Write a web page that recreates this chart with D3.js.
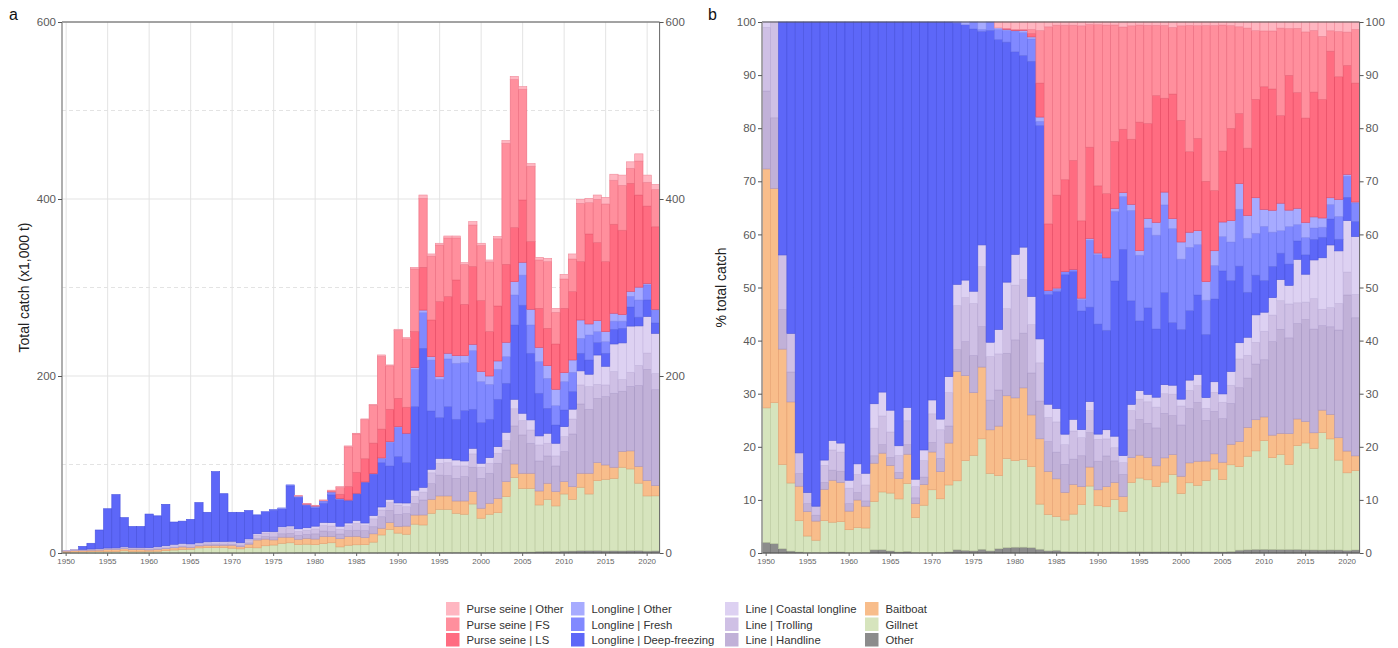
<!DOCTYPE html>
<html><head><meta charset="utf-8">
<script src="https://cdn.jsdelivr.net/npm/d3@7"></script>
<style>body{margin:0;background:#fff;font-family:"Liberation Sans",Arial,Helvetica,sans-serif}</style>
</head><body><svg id="c" width="1398" height="648"></svg>
<script>
const years = d3.range(1950, 2022);

// catch by gear, thousand tonnes (1950 ... 2021)
const other = [.06,.07,.06,.04,.05,.05,.07,.04,.06,.06,.04,.04,.06,.21,.22,.15,.11,.14,.09,.07,.05,.05,.1,.26,.24,.2,.36,.31,.52,.56,.59,.66,.71,.53,
 .5,.7,.4,.4,.5,.5,.5,.5,.8,.8,.8,.8,.8,.8,.8,.9,.8,.8,.8,1.0,1.2,1.1,1.2,1.8,2.0,1.9,2.2,2.3,2.6,2.6,2.7,2.4,2.5,2.4,2.6,2.6,2.2,2.4];
const gillnet = [.76,1.06,1.19,1.41,1.53,1.55,1.52,2.4,1.68,1.71,1.89,1.97,2.53,3.19,3.92,4.14,5.7,5.89,6.07,5.96,5.43,4.65,6.05,5.59,7.94,8.82,10.61,11.24,8.97,9.41,8.8,9.9,10.86,6.38,
 8.3,8.6,9.0,11.9,19.9,26.3,22.0,20.7,31.8,30.9,44.1,48.6,48.6,44.1,43.0,54.5,38.5,43.0,44.8,62.7,84.0,72.0,71.9,52.5,58.7,51.3,64.5,58.4,71.7,64.1,79.1,80.9,81.9,94.5,92.4,76.3,62.3,62.2];
const baitboat = [1.35,1.61,1.63,1.68,1.69,2.3,2.38,2.36,2.37,2.22,1.54,2.18,2.26,2.52,2.63,1.98,2.17,2.53,2.39,2.61,3.27,2.35,3.79,8.86,7.52,5.78,6.89,6.31,6.05,6.61,6.37,8.1,6.89,9.23,
 9.8,9.6,7.9,9.4,7.6,7.6,7.6,9.2,10.3,11.3,15.8,15.1,15.1,13.9,15.0,14.0,11.3,12.4,16.2,17.0,15.4,17.0,17.0,15.8,18.1,16.2,14.0,14.3,15.8,23.4,20.3,16.2,12.5,18.0,20.4,19.0,17.5,11.6];
const handline = [.44,.53,.56,.62,.62,.75,.73,.52,.57,.63,.62,.59,.55,.49,.58,.57,.68,.83,1.01,.94,.83,1.15,1.54,1.76,3.01,3.43,3.88,4.31,4.42,4.48,5.89,6.18,5.61,5.33,
 6.8,6.8,8.0,8.0,13.0,13.8,13.6,14.1,13.1,16.9,17.7,23.5,23.0,25.6,27.5,27.5,33.8,33.9,39.6,35.7,43.0,43.3,33.9,33.9,30.9,29.0,33.9,59.5,78.3,72.3,72.7,77.2,83.6,67.9,72.9,91.5,125.5,108.3];
const trolling = [.36,.72,.77,.80,1.01,1.05,1.12,1.28,1.14,1.08,1.28,1.43,1.65,1.82,1.94,1.82,1.82,2.07,1.93,2.08,2.48,2.48,3.02,3.57,3.9,4.8,5.76,6.31,4.42,4.7,5.56,6.06,6.46,5.4,
 5.5,7.7,5.6,8.9,7.6,8.8,10.4,7.8,8.0,8.9,12.2,13.4,14.5,14.0,12.1,15.1,12.5,11.3,11.3,10.6,19.4,16.2,15.0,18.1,14.3,11.3,16.9,16.9,21.5,25.6,15.8,13.2,24.5,13.2,15.9,22.6,18.4,18.3];
const coastal = [.03,0,0,0,0,0,0,.4,.54,.51,.66,.84,1.21,1.61,1.62,1.56,1.03,1.15,1.29,1.34,1.2,.92,1.44,1.72,1.55,1.13,2.09,2.08,2.99,2.8,3.13,3.66,3.76,3.38,
 3.0,3.4,3.0,3.7,3.4,3.6,2.5,4.2,7.0,5.4,4.0,5.6,5.0,6.7,5.6,6.3,4.5,6.4,7.5,9.4,10.7,8.3,11.4,10.2,11.3,14.3,11.3,11.1,15.9,14.0,33.1,21.1,31.2,41.4,52.2,44.6,41.4,45.4];
const deepFreezing = [0,0,3.29,6.45,21.09,44.3,60.19,33,23.64,23.79,37.97,34.94,46.75,25.17,25.09,27.78,45.49,33.4,79.21,54.0,32.75,34.41,32.06,21.16,22.61,24.21,20.5,45.2,35.49,25.31,20.57,21.66,31.45,30.15,
 25.0,29.8,45.5,46.7,50.0,37.8,52.4,45.6,94.4,157.1,65.9,46.0,58.4,46.0,56.9,44.1,45.9,43.3,53.5,55.4,84.0,122.1,75.3,48.2,28.2,20.7,18.8,19.9,19.9,16.1,14.0,14.7,16.6,16.5,21.6,9.9,18.7,11.8];
const fresh = [0,0,0,0,0,0,0,0,0,0,0,0,0,0,0,0,0,0,0,0,0,0,0,.09,0,.64,.2,1.23,1.24,1.23,2.11,2.58,2.98,.6,
 .9,.6,.9,.7,4.8,26.8,33.0,33.2,42.2,40.2,57.5,43.3,53.9,63.3,54.2,66.3,46.4,39.5,33.9,30.1,33.9,34,32.0,35.8,33.9,21.8,32.1,21.8,16.9,28.3,12.5,13.1,9.2,8.1,12.0,19.4,17.0,14.5];
const longlineOther = [0,0,0,0,0,0,0,0,0,0,0,0,0,0,0,0,0,0,0,0,0,0,0,0,.24,0,.71,0,.2,.11,.05,.24,.28,.6,
 0,.3,0,0,.6,.7,.8,0,1.9,3.0,3.9,3.0,6.4,8.6,7.9,7.1,11.3,9.4,9.4,16.2,15.0,14.5,17.7,16.1,14.3,18.5,10.1,13.9,20.7,12.4,12.4,11.4,8.9,7.4,5.7,14.5,1.5,.8];
const psLS = [0,0,0,0,0,0,0,0,0,0,0,0,0,0,0,0,0,0,0,0,0,0,0,0,0,0,0,0,0,.11,.11,.12,.43,4.8,
 15.2,23.7,26.2,34.5,32.6,36.5,32.0,29.4,40.7,48.3,41.4,84.7,64.0,85.5,58.0,87.8,80.2,50.2,62.1,88.1,61.0,70.4,76.4,44.1,42.2,51.2,72.7,77.2,65.9,101.7,88.1,79.0,100.6,95.3,122.0,104.1,87.5,93.3];
const psFS = [0,0,0,0,0,0,0,0,0,0,0,0,0,0,0,0,0,0,0,0,0,0,0,0,0,0,0,0,0,0,0,0,.57,7.43,
 44.9,43.3,44.1,42.8,82.2,49.1,76.7,77.3,70.8,77.9,72.2,64.0,66.3,47.5,45.0,47.0,62.3,78.8,75.9,136.8,167.4,125.1,85.2,54.6,75.3,35.8,33.1,36.9,65.9,35.4,49.0,65.2,49.7,50.8,17.0,38.4,26.9,42.1];
const psOther = [0,0,0,0,0,0,0,0,0,0,0,0,0,0,0,0,0,0,0,0,0,0,0,0,0,0,0,0,.72,.67,.76,.84,.99,1.2,
 1.1,.8,.9,1.0,1.6,1.0,1.3,1.4,1.8,3.8,2.4,2.0,2.2,2.2,2.1,3.8,2.5,2.1,2.5,3.0,3.6,3.0,3.0,3.0,3.8,4.5,5.3,5.7,4.6,4.9,4.8,7.5,6.8,11.5,7.3,8.1,8.1,5.8];

const absTicks = [0, 200, 400, 600];
const pctTicks = [0, 10, 20, 30, 40, 50, 60, 70, 80, 90, 100];

const series = {other, gillnet, baitboat, handline, trolling, coastal, deepFreezing, fresh, longlineOther, psLS, psFS, psOther};
const keys = ["other","gillnet","baitboat","handline","trolling","coastal","deepFreezing","fresh","longlineOther","psLS","psFS","psOther"];
const labels = {psOther:"Purse seine | Other", psFS:"Purse seine | FS", psLS:"Purse seine | LS",
  longlineOther:"Longline | Other", fresh:"Longline | Fresh", deepFreezing:"Longline | Deep-freezing",
  coastal:"Line | Coastal longline", trolling:"Line | Trolling", handline:"Line | Handline",
  baitboat:"Baitboat", gillnet:"Gillnet", other:"Other"};
const colors = {psOther:"#ffb6c1", psFS:"#ff8f9d", psLS:"#ff6c81",
  longlineOther:"#a7abff", fresh:"#8189ff", deepFreezing:"#5d67f8",
  coastal:"#ddd1f2", trolling:"#cfc0e5", handline:"#c1b1d8",
  baitboat:"#f8bd8b", gillnet:"#d6e4bd", other:"#8c8c8c"};
const strokes = {psOther:"#f08a9a", psFS:"#ec6b7e", psLS:"#e4475f",
  longlineOther:"#8a8ff0", fresh:"#6670ec", deepFreezing:"#4651de",
  coastal:"#c6b8e0", trolling:"#b6a6d2", handline:"#a695c2",
  baitboat:"#e7a070", gillnet:"#b9c99e", other:"#6e6e6e"};

const rows = years.map((y, i) => { const r = {year: y}; keys.forEach(k => r[k] = series[k][i]); return r; });

const svg = d3.select("#c");
const yTop = 22, yBot = 553;

function panel(o) {
  const g = svg.append("g");
  const x = d3.scaleBand().domain(years).range([o.x0, o.x1]).padding(0);
  const y = d3.scaleLinear().domain(o.domain).range([yBot, yTop]);
  const bw = x.bandwidth();
  g.selectAll(".vg").data(years.filter(d => d % 5 === 0)).join("line")
    .attr("x1", d => x(d) + bw/2).attr("x2", d => x(d) + bw/2)
    .attr("y1", yTop).attr("y2", yBot).attr("stroke", "#e3e3e3").attr("stroke-width", 1);
  g.selectAll(".hg").data(o.major).join("line")
    .attr("x1", o.x0).attr("x2", o.x1).attr("y1", d => y(d)).attr("y2", d => y(d))
    .attr("stroke", "#e3e3e3").attr("stroke-width", 1);
  g.selectAll(".hm").data(o.minor).join("line")
    .attr("x1", o.x0).attr("x2", o.x1).attr("y1", d => y(d)).attr("y2", d => y(d))
    .attr("stroke", "#e3e3e3").attr("stroke-width", 1).attr("stroke-dasharray", "4,3");
  const stack = d3.stack().keys(keys).offset(o.offset);
  const st = stack(rows);
  g.selectAll(".layer").data(st).join("g")
    .attr("fill", d => colors[d.key]).attr("stroke", d => strokes[d.key]).attr("stroke-width", 0.6)
    .selectAll("rect").data(d => d.filter(p => p[1] - p[0] > 0)).join("rect")
    .attr("x", d => x(d.data.year)).attr("width", bw)
    .attr("y", d => y(d[1] * o.mult)).attr("height", d => Math.max(0, y(d[0] * o.mult) - y(d[1] * o.mult)));
  g.append("line").attr("x1", o.x0).attr("x2", o.x1).attr("y1", yTop).attr("y2", yTop).attr("stroke", "#555").attr("stroke-width", 1);
  g.append("line").attr("x1", o.x0).attr("x2", o.x1).attr("y1", yBot).attr("y2", yBot).attr("stroke", "#555").attr("stroke-width", 1);
  g.append("line").attr("x1", o.x0).attr("x2", o.x0).attr("y1", yTop).attr("y2", yBot).attr("stroke", "#9a9a9a").attr("stroke-width", 1.6);
  g.append("line").attr("x1", o.x1).attr("x2", o.x1).attr("y1", yTop).attr("y2", yBot).attr("stroke", "#666").attr("stroke-width", 1);
  const la = g.append("g").attr("transform", `translate(${o.x0},0)`)
    .call(d3.axisLeft(y).tickValues(o.ticks).tickSize(4).tickPadding(2).tickFormat(d3.format("d")));
  const ra = g.append("g").attr("transform", `translate(${o.x1},0)`)
    .call(d3.axisRight(y).tickValues(o.ticks).tickSize(4).tickPadding(2).tickFormat(d3.format("d")));
  [la, ra].forEach(a => {
    a.select(".domain").remove();
    a.selectAll("line").attr("stroke", "#555");
    a.selectAll("text").attr("fill", "#5a5a5a").style("font-size", "11.5px").style("font-family", "Liberation Sans, Arial, sans-serif");
  });
  const xa = g.append("g").attr("transform", `translate(0,${yBot})`)
    .call(d3.axisBottom(x).tickValues(years.filter(d => d % 5 === 0)).tickSize(3).tickPadding(2));
  xa.select(".domain").remove();
  xa.selectAll("line").attr("stroke", "#666");
  xa.selectAll("text").attr("fill", "#666").style("font-size", "8px").style("font-family", "Liberation Sans, Arial, sans-serif");
  g.append("text").attr("transform", `translate(${o.tx},${(yTop + yBot) / 2}) rotate(-90)`)
    .attr("text-anchor", "middle").attr("fill", "#222").style("font-size", "14px").text(o.title);
  g.append("text").attr("x", o.lx).attr("y", 20).attr("fill", "#111").style("font-size", "16px").text(o.letter);
}

panel({x0: 62, x1: 659.6, domain: [0, 600], mult: 1, offset: d3.stackOffsetNone,
  ticks: absTicks, major: [0, 200, 400, 600], minor: [100, 300, 500],
  title: "Total catch (x1,000 t)", tx: 29, letter: "a", lx: 9});
panel({x0: 762, x1: 1359.6, domain: [0, 100], mult: 100, offset: d3.stackOffsetExpand,
  ticks: pctTicks, major: [0, 20, 40, 60, 80, 100], minor: [10, 30, 50, 70, 90],
  title: "% total catch", tx: 726, letter: "b", lx: 708});

const legendCols = [["psOther","psFS","psLS"],["longlineOther","fresh","deepFreezing"],["coastal","trolling","handline"],["baitboat","gillnet","other"]];
const colX = [446, 571, 725, 865];
const lg = svg.append("g");
legendCols.forEach((col, ci) => {
  col.forEach((k, ri) => {
    const yy = 602 + ri * 15.5;
    lg.append("rect").attr("x", colX[ci]).attr("y", yy).attr("width", 13.5).attr("height", 13.5).attr("fill", colors[k]);
    lg.append("text").attr("x", colX[ci] + 20.5).attr("y", yy + 11).attr("fill", "#333").style("font-size", "11.3px").text(labels[k]);
  });
});
</script></body></html>
